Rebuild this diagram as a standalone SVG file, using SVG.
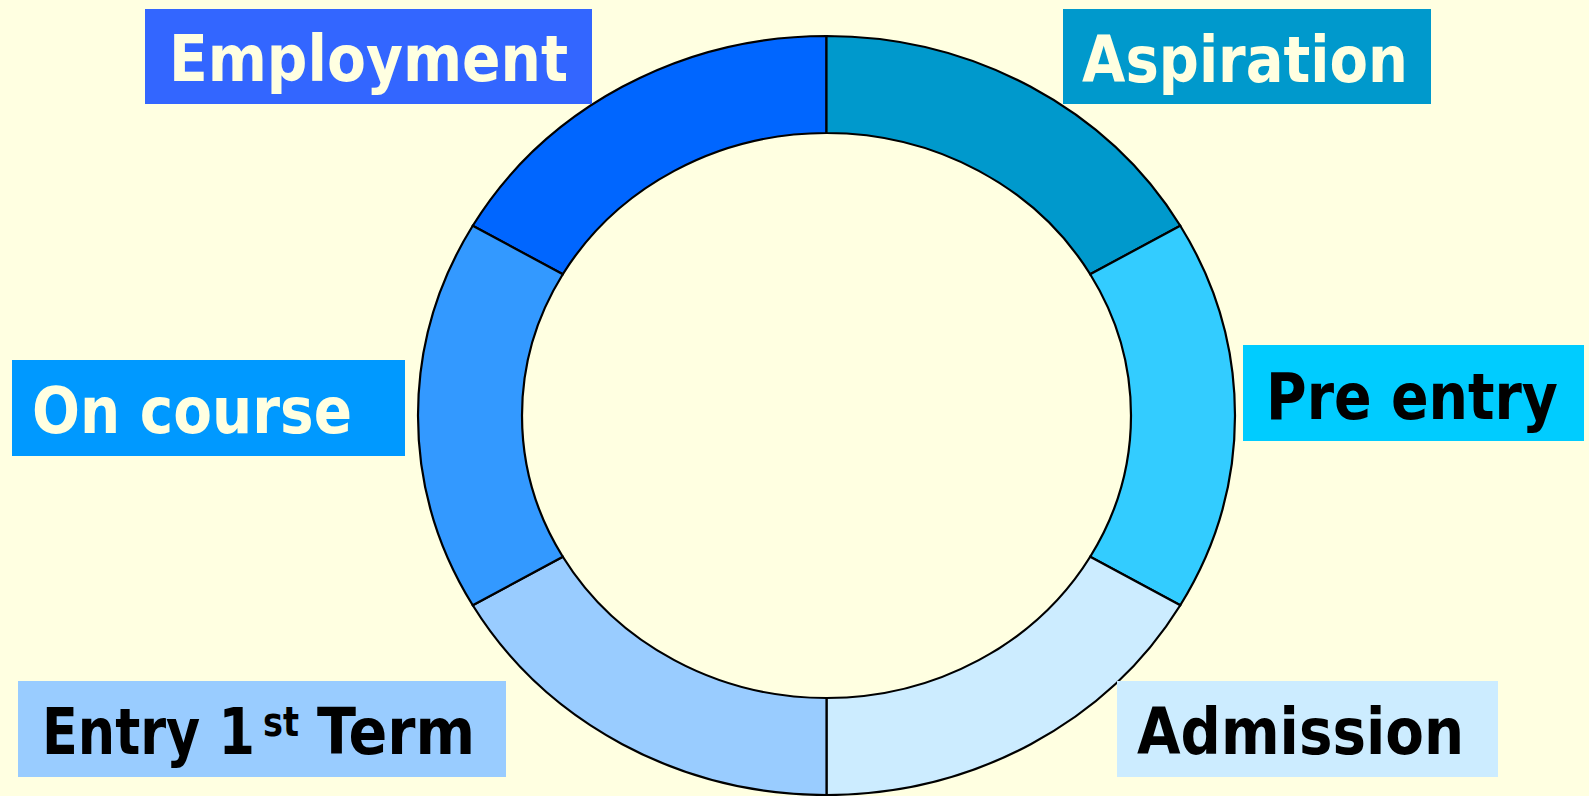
<svg xmlns="http://www.w3.org/2000/svg" width="1589" height="796" viewBox="0 0 1589 796">
<style>
.seg{stroke:#000;stroke-width:2.2;stroke-linejoin:miter}
.lbl{font-family:"DejaVu Sans","Verdana",sans-serif;font-weight:bold;font-size:64px}
.light{fill:#FFFFE1}
.dark{fill:#000}
</style>
<rect x="0" y="0" width="1589" height="796" fill="#FFFFE1"/>
<g id="employment">
<path class="seg" fill="#0066FF" d="M826.5 36 A408.5 379.5 0 0 0 472.73 225.75 L562.8 274.25 A304.5 282.5 0 0 1 826.5 133 Z"/>
<rect x="145" y="9" width="447" height="95" fill="#3366FF"/>
<text class="lbl light" x="169" y="81" textLength="399" lengthAdjust="spacingAndGlyphs">Employment</text>
</g>
<g id="aspiration">
<path class="seg" fill="#0099CC" d="M1180.27 225.75 A408.5 379.5 0 0 0 826.5 36 L826.5 133 A304.5 282.5 0 0 1 1090.2 274.25 Z"/>
<rect x="1063" y="9" width="368" height="95" fill="#0099CC"/>
<text class="lbl light" x="1082" y="82" textLength="326" lengthAdjust="spacingAndGlyphs">Aspiration</text>
</g>
<g id="pre-entry">
<path class="seg" fill="#33CCFF" d="M1180.27 605.25 A408.5 379.5 0 0 0 1180.27 225.75 L1090.2 274.25 A304.5 282.5 0 0 1 1090.2 556.75 Z"/>
<rect x="1243" y="345" width="341" height="96" fill="#00CCFF"/>
<text class="lbl dark" x="1266" y="419" textLength="292" lengthAdjust="spacingAndGlyphs">Pre entry</text>
</g>
<g id="admission">
<path class="seg" fill="#CCECFF" d="M826.5 795 A408.5 379.5 0 0 0 1180.27 605.25 L1090.2 556.75 A304.5 282.5 0 0 1 826.5 698 Z"/>
<rect x="1117" y="681" width="381" height="96" fill="#CCECFF"/>
<text class="lbl dark" x="1137" y="754" textLength="327" lengthAdjust="spacingAndGlyphs">Admission</text>
</g>
<g id="entry-1st-term">
<path class="seg" fill="#99CCFF" d="M472.73 605.25 A408.5 379.5 0 0 0 826.5 795 L826.5 698 A304.5 282.5 0 0 1 562.8 556.75 Z"/>
<rect x="18" y="681" width="488" height="96" fill="#99CCFF"/>
<text class="lbl dark" x="42" y="754"><tspan x="42" textLength="213" lengthAdjust="spacingAndGlyphs">Entry 1</tspan><tspan x="263" y="736" font-size="40" textLength="36" lengthAdjust="spacingAndGlyphs">st</tspan><tspan x="317" y="754" textLength="158" lengthAdjust="spacingAndGlyphs">Term</tspan></text>
</g>
<g id="on-course">
<path class="seg" fill="#3399FF" d="M472.73 225.75 A408.5 379.5 0 0 0 472.73 605.25 L562.8 556.75 A304.5 282.5 0 0 1 562.8 274.25 Z"/>
<rect x="12" y="360" width="393" height="96" fill="#0099FF"/>
<text class="lbl light" x="32" y="433" textLength="320" lengthAdjust="spacingAndGlyphs">On course</text>
</g>
</svg>
